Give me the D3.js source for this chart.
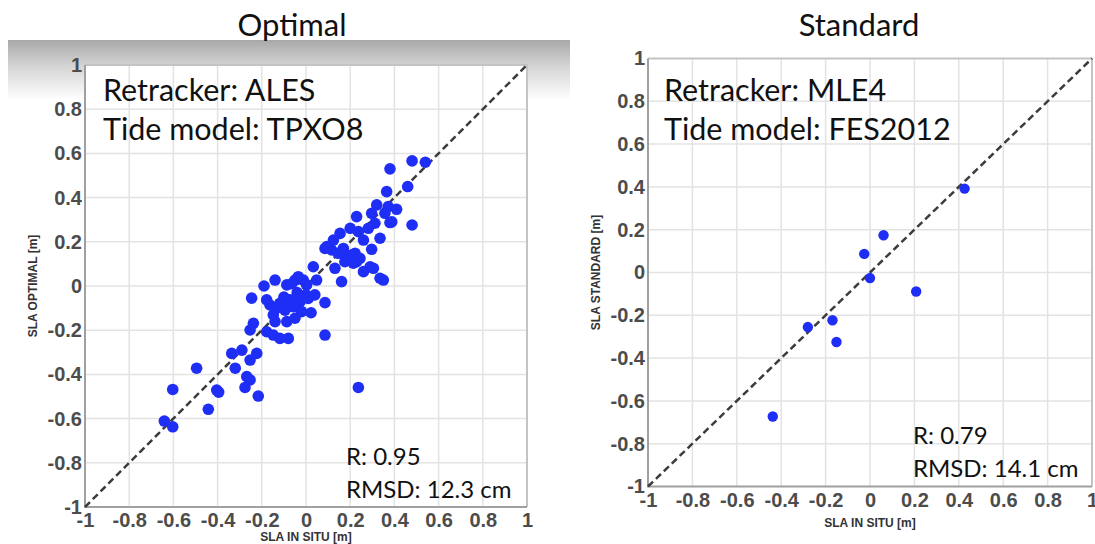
<!DOCTYPE html>
<html lang="en">
<head>
    <meta charset="utf-8">
    <title>SLA optimal vs standard</title>
    <script src="https://cdn.jsdelivr.net/npm/d3@7"></script>
    <style>
        body { margin: 0; background: #fff; }
        svg { display: block; }
        text.title, text.note { font-family: Lato, "Open Sans", sans-serif; fill: #111; }
        text.axis-title { font-family: "Liberation Sans", Arial, sans-serif; font-weight: bold; font-size: 12px; fill: #333; }
    </style>
</head>
<body>
<script>
    // DATA
    const ticks = [-1, -0.8, -0.6, -0.4, -0.2, 0, 0.2, 0.4, 0.6, 0.8, 1];
    const tickLabels = ['-1', '-0.8', '-0.6', '-0.4', '-0.2', '0', '0.2', '0.4', '0.6', '0.8', '1'];

    // optimal: in situ SLA (x) vs altimetry SLA (y), metres
    const optimalInSitu = [
        0.38, 0.48, 0.54, 0.46, 0.365, 0.48, 0.32, 0.372, 0.41, 0.297, 0.357, 0.229, 0.312, 0.38, 0.282,
        0.2, 0.154, 0.237, 0.335, 0.26, 0.124, 0.297, 0.086, 0.116, 0.161, 0.184, 0.222, 0.244, 0.176, 0.214,
        0.131, 0.29, 0.26, 0.305, 0.161, 0.335, 0.35, 0.033, -0.035, -0.05, -0.012, 0.048, -0.14, -0.19, -0.087,
        -0.246, 0.388, 0.094, 0.169, 0.146, 0.207, 0.229, 0.003, -0.065, -0.1, -0.04, 0.0, 0.04,
        -0.178, -0.163, -0.133, -0.103, -0.072, -0.027, -0.148, -0.14, -0.118, -0.095, -0.08, -0.057, -0.05, -0.087,
        -0.027, -0.02, 0.01, 0.023, 0.086, 0.086, -0.178, -0.148, -0.118, -0.08, -0.238, -0.253, -0.336, -0.29,
        -0.223, -0.253, -0.32, -0.495, -0.268, -0.253, -0.276, -0.216, -0.404, -0.395, -0.442, -0.603, -0.641,
        -0.603, 0.237
    ];
    const optimalSla = [
        0.53, 0.566, 0.56, 0.45, 0.427, 0.276, 0.367, 0.359, 0.347, 0.329, 0.329, 0.314, 0.284, 0.287, 0.261,
        0.261, 0.238, 0.246, 0.216, 0.208, 0.208, 0.166, 0.17, 0.163, 0.155, 0.14, 0.148, 0.125, 0.11, 0.103,
        0.08, 0.087, 0.065, 0.08, 0.02, 0.035, 0.027, 0.087, 0.042, 0.027, 0.027, 0.027, 0.027, 0, 0.005,
        -0.055, 0.29, 0.178, 0.17, 0.148, 0.14, 0.11, 0.005, 0.01, -0.05, -0.03, -0.04, -0.04,
        -0.063, -0.086, -0.1, -0.071, -0.063, -0.071, -0.131, -0.161, -0.078, -0.109, -0.063, -0.094, -0.146, -0.161,
        -0.048, -0.116, -0.056, -0.121, -0.075, -0.222, -0.207, -0.222, -0.237, -0.237, -0.169, -0.199, -0.305, -0.29,
        -0.305, -0.335, -0.372, -0.372, -0.41, -0.425, -0.459, -0.498, -0.471, -0.48, -0.558, -0.468, -0.611,
        -0.637, -0.459
    ];

    // standard: in situ SLA (x) vs altimetry SLA (y), metres
    const standardInSitu = [-0.438, -0.28, -0.169, -0.151, 0, -0.026, 0.061, 0.208, 0.426];
    const standardSla = [-0.673, -0.255, -0.223, -0.325, -0.026, 0.087, 0.174, -0.089, 0.392];

    const panelTitles = ['Optimal', 'Standard'];
    const retrackers = ['Retracker: ALES', 'Retracker: MLE4'];
    const tideModels = ['Tide model: TPXO8', 'Tide model: FES2012'];
    const correlations = ['R: 0.95', 'R: 0.79'];
    const rmsds = ['RMSD: 12.3 cm', 'RMSD: 14.1 cm'];
    const yTitles = ['SLA OPTIMAL [m]', 'SLA STANDARD [m]'];
    const xTitle = 'SLA IN SITU [m]';

    // LAYOUT
    const dim = { width: 1095, height: 544 };
    const panels = [
        { left: 85, right: 527, top: 65, bottom: 507, r: 5.8, titleX: 292,
          noteX: 103, statX: 346, statY: [465, 498], xTitleY: 541, yTitleX: 37,
          x: optimalInSitu, y: optimalSla },
        { left: 648, right: 1092, top: 58.5, bottom: 486.5, r: 5.2, titleX: 859,
          noteX: 664, statX: 913, statY: [444, 477], xTitleY: 527, yTitleX: 600,
          x: standardInSitu, y: standardSla }
    ];

    const svg = d3.select('body')
                  .append('svg')
                  .attr('width', dim.width)
                  .attr('height', dim.height);

    // grey banner behind the left panel header
    const grad = svg.append('defs').append('linearGradient')
        .attr('id', 'band').attr('x1', 0).attr('y1', 0).attr('x2', 0).attr('y2', 1);
    grad.append('stop').attr('offset', 0).attr('stop-color', '#a8a8a8');
    grad.append('stop').attr('offset', 0.45).attr('stop-color', '#d6d6d6');
    grad.append('stop').attr('offset', 1).attr('stop-color', '#ffffff');
    svg.append('rect')
        .attr('x', 8).attr('y', 40).attr('width', 562).attr('height', 60)
        .attr('fill', 'url(#band)');

    panels.forEach((p, i) => drawPanel(p, i));

    function drawPanel(p, i) {
        const x = d3.scaleLinear().domain([-1, 1]).range([p.left, p.right]);
        const y = d3.scaleLinear().domain([-1, 1]).range([p.bottom, p.top]);
        const g = svg.append('g');

        g.append('rect')
            .attr('x', p.left).attr('y', p.top)
            .attr('width', p.right - p.left).attr('height', p.bottom - p.top)
            .attr('fill', '#fff');

        // grid
        const inner = ticks.slice(1, -1);
        g.selectAll('line.vgrid').data(inner).join('line')
            .attr('x1', d => x(d)).attr('x2', d => x(d))
            .attr('y1', p.top).attr('y2', p.bottom)
            .attr('stroke', '#e3e3e3').attr('stroke-width', 1.5);
        g.selectAll('line.hgrid').data(inner).join('line')
            .attr('y1', d => y(d)).attr('y2', d => y(d))
            .attr('x1', p.left).attr('x2', p.right)
            .attr('stroke', '#e3e3e3').attr('stroke-width', 1.5);

        // box
        g.append('path')
            .attr('d', `M${p.left},${p.top}H${p.right}V${p.bottom}`)
            .attr('fill', 'none').attr('stroke', '#c4c4c4').attr('stroke-width', 2);
        g.append('path')
            .attr('d', `M${p.left},${p.top}V${p.bottom}H${p.right}`)
            .attr('fill', 'none').attr('stroke', '#a0a0a0').attr('stroke-width', 2);

        // axes
        const xAxis = g.append('g')
            .attr('transform', `translate(0,${p.bottom})`)
            .call(d3.axisBottom(x).tickValues(ticks).tickFormat((d, k) => tickLabels[k])
                .tickSize(0).tickPadding(6));
        const yAxis = g.append('g')
            .attr('transform', `translate(${p.left},0)`)
            .call(d3.axisLeft(y).tickValues(ticks).tickFormat((d, k) => tickLabels[k])
                .tickSize(0).tickPadding(3));
        [xAxis, yAxis].forEach(a => {
            a.select('.domain').remove();
            a.selectAll('text')
                .attr('font-family', '"Liberation Sans", Arial, sans-serif')
                .attr('font-weight', 'bold')
                .attr('font-size', 20)
                .attr('fill', '#4c4c4c');
        });

        // 1:1 line
        g.append('line')
            .attr('x1', x(-1)).attr('y1', y(-1)).attr('x2', x(1)).attr('y2', y(1))
            .attr('stroke', '#3c3c3c').attr('stroke-width', 2.5)
            .attr('stroke-dasharray', '7,4');

        // points
        g.selectAll('circle').data(d3.zip(p.x, p.y)).join('circle')
            .attr('cx', d => x(d[0])).attr('cy', d => y(d[1]))
            .attr('r', p.r)
            .attr('fill', '#1f2ef5');

        // texts
        svg.append('text').attr('class', 'title')
            .attr('x', p.titleX).attr('y', 36)
            .attr('text-anchor', 'middle').attr('font-size', 31)
            .text(panelTitles[i]);
        svg.append('text').attr('class', 'note')
            .attr('x', p.noteX).attr('y', 101).attr('font-size', 30.5)
            .text(retrackers[i]);
        svg.append('text').attr('class', 'note')
            .attr('x', p.noteX).attr('y', 140).attr('font-size', 30.5)
            .text(tideModels[i]);
        svg.append('text').attr('class', 'note')
            .attr('x', p.statX).attr('y', p.statY[0]).attr('font-size', 24)
            .text(correlations[i]);
        svg.append('text').attr('class', 'note')
            .attr('x', p.statX).attr('y', p.statY[1]).attr('font-size', 24)
            .text(rmsds[i]);

        svg.append('text').attr('class', 'axis-title')
            .attr('x', (p.left + p.right) / 2).attr('y', p.xTitleY)
            .attr('text-anchor', 'middle')
            .text(xTitle);
        svg.append('text').attr('class', 'axis-title')
            .attr('transform', `translate(${p.yTitleX},${(p.top + p.bottom) / 2}) rotate(-90)`)
            .attr('text-anchor', 'middle')
            .text(yTitles[i]);
    }
</script>
</body>
</html>
